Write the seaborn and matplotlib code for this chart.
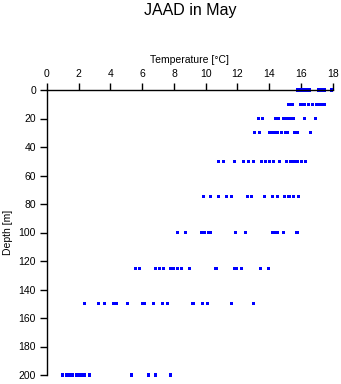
import matplotlib
matplotlib.use("Agg")
import matplotlib.pyplot as plt
import seaborn as sns
import pandas as pd

# Temperature readings (°C) per depth (m)
t_0 = [15.8, 15.95, 16.1, 16.25, 16.4, 16.55, 17.1, 17.3, 17.45, 17.9]
t_10 = [15.25, 15.45, 16.0, 16.2, 16.45, 16.7, 17.0, 17.2, 17.45]
t_20 = [13.35, 13.55, 14.4, 14.6, 14.9, 15.05, 15.25, 15.5, 16.2, 16.9]
t_30 = [13.1, 13.4, 14.05, 14.3, 14.5, 14.8, 15.0, 15.15, 15.6, 15.8, 16.6]
t_50 = [10.8, 11.1, 11.8, 12.4, 12.7, 13.0, 13.5, 13.75, 14.0, 14.25, 14.65,
        15.1, 15.35, 15.5, 15.75, 16.05, 16.3]
t_75 = [9.85, 10.3, 10.8, 11.3, 11.6, 12.65, 12.9, 13.7, 14.2, 14.55, 14.95,
        15.25, 15.55, 15.85]
t_100 = [8.2, 8.7, 9.75, 9.95, 10.15, 10.3, 11.9, 12.5, 14.2, 14.35, 14.55,
         14.9, 15.75]
t_125 = [5.6, 5.85, 6.85, 7.1, 7.35, 7.8, 7.95, 8.2, 8.5, 9.0, 10.65, 11.8,
         11.95, 12.25, 13.45, 13.95]
t_150 = [2.35, 3.25, 3.65, 4.2, 4.35, 5.05, 6.0, 6.15, 6.7, 7.3, 7.6, 9.2,
         9.8, 10.1, 11.6, 13.0]
t_200 = [0.95, 1.25, 1.4, 1.6, 1.85, 2.0, 2.2, 2.35, 2.65, 5.35, 6.4, 6.85, 7.8]

depths = [0, 10, 20, 30, 50, 75, 100, 125, 150, 200]
temps = [t_0, t_10, t_20, t_30, t_50, t_75, t_100, t_125, t_150, t_200]

x_ticks = [0, 2, 4, 6, 8, 10, 12, 14, 16, 18]
y_ticks = [0, 20, 40, 60, 80, 100, 120, 140, 160, 180, 200]

rows = [(t, d) for d, ts in zip(depths, temps) for t in ts]
df = pd.DataFrame(rows, columns=["Temperature", "Depth"])

sns.set_theme(style="white")
plt.rcParams['font.family'] = ['Liberation Sans', 'DejaVu Sans']

fig = plt.figure(figsize=(3.41, 3.84), dpi=100)
ax = fig.add_axes([47/341, 1 - 375/384, (332.7 - 47)/341, (375 - 90)/384])

sns.scatterplot(data=df, x="Temperature", y="Depth", ax=ax, marker="s",
                s=5, color="#0000ff", edgecolor="none", legend=False, clip_on=False)

ax.set_xlim(0, 18)
ax.set_ylim(200, 0)
ax.set_xticks(x_ticks)
ax.set_yticks(y_ticks)
ax.xaxis.set_ticks_position("top")
ax.xaxis.set_label_position("top")
ax.tick_params(axis="both", direction="out", length=5, width=1, color="black",
               labelsize=7.5, pad=3, labelcolor="black")
ax.tick_params(axis="x", top=True, bottom=False)
ax.tick_params(axis="y", left=True)
ax.set_xlabel("Temperature [°C]", fontsize=7.5, labelpad=4, color="black")
ax.set_ylabel("Depth [m]", fontsize=7.5, labelpad=4, color="black")

for side in ["right", "bottom"]:
    ax.spines[side].set_visible(False)
for side in ["top", "left"]:
    ax.spines[side].set_visible(True)
    ax.spines[side].set_color("black")
    ax.spines[side].set_linewidth(1)

fig.suptitle("JAAD in May", x=190/341, y=0.993, fontsize=11.5, color="black")

fig.savefig("out.png", dpi=100)
